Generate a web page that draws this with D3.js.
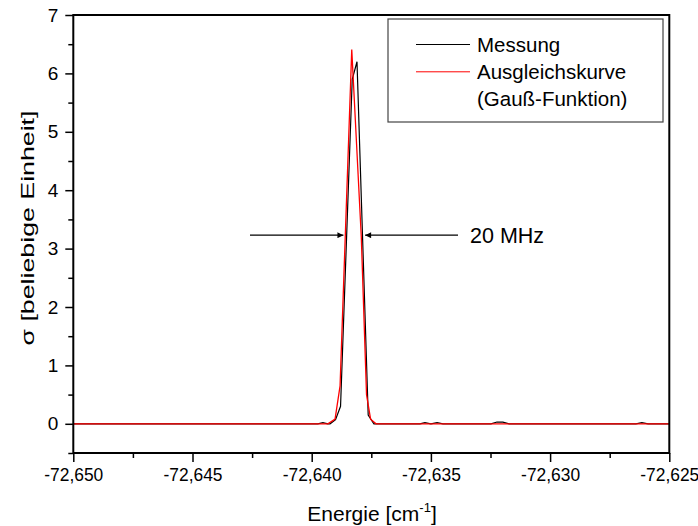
<!DOCTYPE html>
<html>
<head>
<meta charset="utf-8">
<script src="https://cdn.jsdelivr.net/npm/d3@7"></script>
<style>
  html, body { margin: 0; padding: 0; background: #fff; }
  svg { display: block; font-family: "Liberation Sans", Arial, sans-serif; }
</style>
</head>
<body>
<svg id="chart" width="698" height="526"></svg>
<script>
// Measured signal (energy in cm^-1, sigma in arbitrary units)
const messungX = [-72.650, -72.63974, -72.63953, -72.63932, -72.63923, -72.63900, -72.63879,
  -72.63830, -72.63810, -72.63763, -72.63739, -72.63546, -72.63525, -72.63500, -72.63474,
  -72.63449, -72.63248, -72.63223, -72.63198, -72.63172, -72.62640, -72.62615, -72.62589, -72.625];
const messungY = [0, 0, 0.02, 0, 0, 0.07, 0.3,
  5.9, 6.2, 0.15, 0, 0, 0.02, 0, 0.02,
  0, 0, 0.03, 0.03, 0, 0, 0.02, 0, 0];

// Gaussian fit curve
const fitX = [-72.650, -72.63932, -72.63902, -72.63881, -72.63832, -72.63792,
  -72.63770, -72.63753, -72.63730, -72.625];
const fitY = [0, 0, 0.08, 0.65, 6.41, 3.2, 0.5, 0.08, 0, 0];

// Axis ticks
const xTicks = [-72.650, -72.645, -72.640, -72.635, -72.630, -72.625];
const xMinorTicks = [-72.6475, -72.6425, -72.6375, -72.6325, -72.6275];
const yTicks = [0, 1, 2, 3, 4, 5, 6, 7];
const yMinorTicks = [-0.5, 0.5, 1.5, 2.5, 3.5, 4.5, 5.5, 6.5];

// Half-width marker height and label
const fwhmLevel = 3.23;
const fwhmLeft = -72.63867;
const fwhmRight = -72.63776;
const fwhmLabel = "20 MHz";

const legendItems = [
  { label: "Messung", color: "#000" },
  { label: "Ausgleichskurve", color: "#ff0000" }
];

const svg = d3.select("#chart");
const m = { left: 73.3, right: 669.3, top: 15, bottom: 453 };

const x = d3.scaleLinear().domain([-72.650, -72.625]).range([m.left, m.right]);
const y = d3.scaleLinear().domain([-0.5, 7]).range([m.bottom, m.top]);

const fmtX = v => d3.format(".3f")(v).replace(".", ",").replace("−", "-");

// Axes
const xAxis = d3.axisBottom(x).tickValues(xTicks).tickSize(9).tickPadding(6).tickFormat(fmtX);
const xAxisMinor = d3.axisBottom(x).tickValues(xMinorTicks).tickSize(5).tickFormat("");
const yAxis = d3.axisLeft(y).tickValues(yTicks).tickSize(8).tickPadding(7).tickFormat(d3.format("d"));
const yAxisMinor = d3.axisLeft(y).tickValues(yMinorTicks).tickSize(5).tickFormat("");

function styleAxis(g) {
  g.select(".domain").remove();
  g.selectAll(".tick line").attr("stroke", "#000").attr("stroke-width", 1.5);
  g.selectAll(".tick text").attr("fill", "#000").attr("font-size", 19)
    .attr("font-family", "'Liberation Sans', Arial, sans-serif");
}

svg.append("g").attr("transform", `translate(0,${m.bottom})`).call(xAxis).call(styleAxis)
  .selectAll(".tick text").attr("textLength", 59).attr("lengthAdjust", "spacingAndGlyphs");
svg.append("g").attr("transform", `translate(0,${m.bottom})`).call(xAxisMinor).call(styleAxis);
svg.append("g").attr("transform", `translate(${m.left},0)`).call(yAxis).call(styleAxis);
svg.append("g").attr("transform", `translate(${m.left},0)`).call(yAxisMinor).call(styleAxis);

// Clip for the curves
svg.append("clipPath").attr("id", "plotclip")
  .append("rect").attr("x", m.left).attr("y", m.top)
  .attr("width", m.right - m.left).attr("height", m.bottom - m.top);

const line = d3.line().x(d => x(d[0])).y(d => y(d[1]));

const plot = svg.append("g").attr("clip-path", "url(#plotclip)");
plot.append("path")
  .datum(messungX.map((v, i) => [v, messungY[i]]))
  .attr("d", line).attr("fill", "none").attr("stroke", "#000").attr("stroke-width", 1.2);
plot.append("path")
  .datum(fitX.map((v, i) => [v, fitY[i]]))
  .attr("d", line).attr("fill", "none").attr("stroke", "#ff0000").attr("stroke-width", 1.3);

// Frame
svg.append("rect")
  .attr("x", m.left).attr("y", m.top)
  .attr("width", m.right - m.left).attr("height", m.bottom - m.top)
  .attr("fill", "none").attr("stroke", "#000").attr("stroke-width", 2);

// FWHM arrows
const defs = svg.append("defs");
defs.append("marker").attr("id", "arrow")
  .attr("viewBox", "0 0 10 10").attr("refX", 10).attr("refY", 5)
  .attr("markerWidth", 10).attr("markerHeight", 6).attr("markerUnits", "userSpaceOnUse")
  .attr("orient", "auto")
  .append("path").attr("d", "M0,0 L10,5 L0,10 Z").attr("fill", "#000");

const ay = y(fwhmLevel);
svg.append("line")
  .attr("x1", 250).attr("y1", ay).attr("x2", x(fwhmLeft)).attr("y2", ay)
  .attr("stroke", "#000").attr("stroke-width", 1.2).attr("marker-end", "url(#arrow)");
svg.append("line")
  .attr("x1", 458).attr("y1", ay).attr("x2", x(fwhmRight)).attr("y2", ay)
  .attr("stroke", "#000").attr("stroke-width", 1.2).attr("marker-end", "url(#arrow)");
svg.append("text").attr("x", 470).attr("y", ay + 8)
  .attr("font-size", 21.5).attr("fill", "#000").text(fwhmLabel);

// Legend
const lg = svg.append("g");
lg.append("rect").attr("x", 388).attr("y", 19).attr("width", 275).attr("height", 103)
  .attr("fill", "#fff").attr("stroke", "#444").attr("stroke-width", 1.2);
legendItems.forEach((it, i) => {
  const ly = 44.5 + i * 27.3;
  lg.append("line").attr("x1", 416).attr("x2", 470).attr("y1", ly).attr("y2", ly)
    .attr("stroke", it.color).attr("stroke-width", 1);
  lg.append("text").attr("x", 477).attr("y", ly + 7).attr("font-size", 20.5)
    .attr("fill", "#000").text(it.label);
});
lg.append("text").attr("x", 477).attr("y", 44.5 + 2 * 27.3 + 7).attr("font-size", 20.5)
  .attr("fill", "#000").text("(Gauß-Funktion)");

// Axis titles
const xt = svg.append("text").attr("x", 372).attr("y", 521)
  .attr("text-anchor", "middle").attr("font-size", 21).attr("fill", "#000");
xt.append("tspan").text("Energie [cm");
xt.append("tspan").attr("font-size", 13).attr("dy", -9).text("-1");
xt.append("tspan").attr("dy", 9).text("]");

svg.append("text")
  .attr("transform", `translate(34,228) rotate(-90)`)
  .attr("text-anchor", "middle").attr("font-size", 19).attr("fill", "#000")
  .attr("textLength", 235).attr("lengthAdjust", "spacingAndGlyphs")
  .text("σ [beliebige Einheit]");
</script>
</body>
</html>
